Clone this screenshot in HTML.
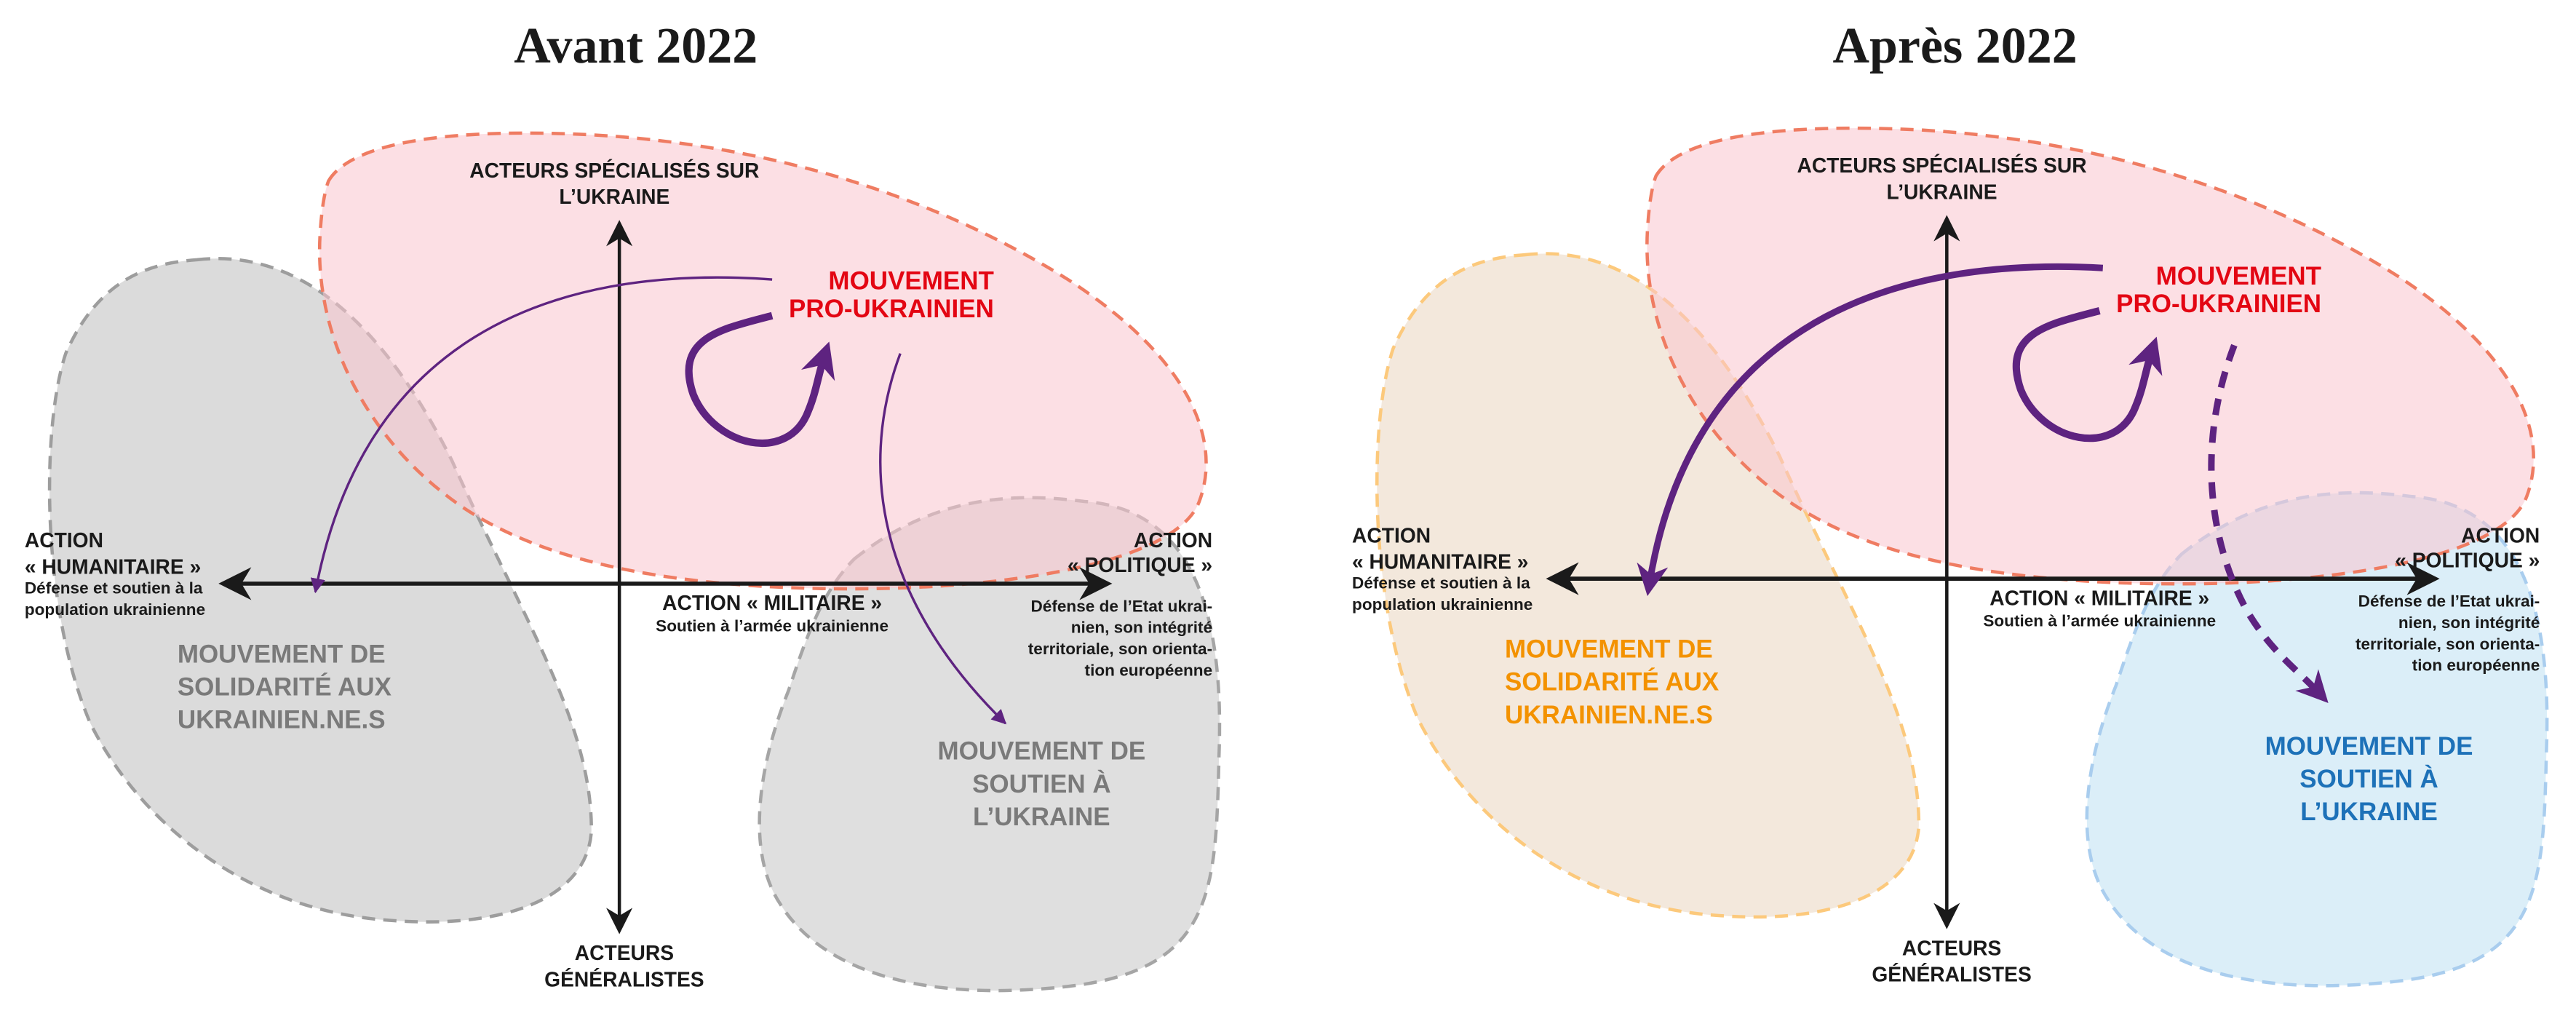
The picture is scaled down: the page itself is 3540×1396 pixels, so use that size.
<!DOCTYPE html>
<html><head><meta charset="utf-8"><style>
html,body{margin:0;padding:0;background:#fff}
svg{display:block}
text{font-family:"Liberation Sans",Arial,sans-serif;font-weight:bold}
.t{font-family:"Liberation Serif",serif;font-size:31px;text-anchor:middle;fill:#1a1a1a}
.ax{font-size:12.5px;fill:#1a1a1a}
.sm{font-size:10px;fill:#1a1a1a}
.big{font-size:15.5px}
</style></head><body>
<svg width="3540" height="1396" viewBox="0 0 1568 618" preserveAspectRatio="none" xmlns="http://www.w3.org/2000/svg">
<defs>
<marker id="ah" viewBox="0 0 10 10" refX="8" refY="5" markerWidth="8" markerHeight="8" orient="auto-start-reverse"><path d="M0,0 L10,5 L0,10 L3,5 Z" fill="#1a1a1a"/></marker>
<marker id="ap" viewBox="0 0 10 10" refX="9" refY="5" markerWidth="6" markerHeight="6" orient="auto"><path d="M0,0 L10,5 L0,10 Z" fill="#5e2380"/></marker>
<marker id="apb" viewBox="0 0 10 10" refX="6" refY="5" markerWidth="4.8" markerHeight="4.8" orient="auto"><path d="M0,0 L10,5 L0,10 L3,5 Z" fill="#5e2380"/></marker>
</defs>

<g id="L">
<text class="t" x="387" y="38">Avant 2022</text>
<path d="M120,158 C190,150 240,210 275,280 C320,380 360,440 360,505 C358,545 310,565 240,560 C150,555 85,500 55,440 C25,370 25,260 40,215 C60,170 90,160 120,158 Z" fill="#d9d9d9" fill-opacity="0.95" stroke="#9d9d9d" stroke-width="2" stroke-dasharray="8,5"/>
<path d="M520,340 C570,300 620,300 660,305 C730,310 745,380 742,460 C740,540 740,590 650,600 C560,610 500,590 475,550 C455,520 460,470 480,420 C490,390 500,360 520,340 Z" fill="#dcdcdc" fill-opacity="0.9" stroke="#a5a5a5" stroke-width="2" stroke-dasharray="8,5"/>
<path d="M200,110 C215,85 280,78 360,82 C470,88 570,120 650,170 C720,215 745,265 730,305 C715,345 600,360 500,358 C400,356 320,340 270,300 C225,265 190,205 195,140 C196,125 198,115 200,110 Z" fill="#f9c5cd" fill-opacity="0.55" stroke="#ef7c62" stroke-width="2" stroke-dasharray="8,5"/>
<line x1="377" y1="565" x2="377" y2="137" stroke="#1a1a1a" stroke-width="2" marker-end="url(#ah)" marker-start="url(#ah)"/>
<line x1="137" y1="355" x2="673" y2="355" stroke="#1a1a1a" stroke-width="2.5" marker-end="url(#ah)" marker-start="url(#ah)"/>
<text class="ax" x="374" y="108" text-anchor="middle">ACTEURS SPÉCIALISÉS SUR</text>
<text class="ax" x="374" y="124" text-anchor="middle">L’UKRAINE</text>
<text class="ax" x="380" y="584" text-anchor="middle">ACTEURS</text>
<text class="ax" x="380" y="600" text-anchor="middle">GÉNÉRALISTES</text>
<text class="ax" x="15" y="333">ACTION</text>
<text class="ax" x="15" y="349">« HUMANITAIRE »</text>
<text class="sm" x="15" y="361">Défense et soutien à la</text>
<text class="sm" x="15" y="374">population ukrainienne</text>
<text class="ax" x="470" y="371" text-anchor="middle">ACTION « MILITAIRE »</text>
<text class="sm" x="470" y="384" text-anchor="middle">Soutien à l’armée ukrainienne</text>
<text class="ax" x="738" y="333" text-anchor="end">ACTION</text>
<text class="ax" x="738" y="348" text-anchor="end">« POLITIQUE »</text>
<text class="sm" x="738" y="372" text-anchor="end">Défense de l’Etat ukrai-</text>
<text class="sm" x="738" y="385" text-anchor="end">nien, son intégrité</text>
<text class="sm" x="738" y="398" text-anchor="end">territoriale, son orienta-</text>
<text class="sm" x="738" y="411" text-anchor="end">tion européenne</text>
<text class="big" x="605" y="176" text-anchor="end" fill="#e30613">MOUVEMENT</text>
<text class="big" x="605" y="193" text-anchor="end" fill="#e30613">PRO-UKRAINIEN</text>
</g>
<g id="Lc">
<text class="big" x="108" y="403" fill="#7a7a7a">MOUVEMENT DE</text>
<text class="big" x="108" y="423" fill="#7a7a7a">SOLIDARITÉ AUX</text>
<text class="big" x="108" y="443" fill="#7a7a7a">UKRAINIEN.NE.S</text>
<text class="big" x="634" y="462" text-anchor="middle" fill="#7a7a7a">MOUVEMENT DE</text>
<text class="big" x="634" y="482" text-anchor="middle" fill="#7a7a7a">SOUTIEN À</text>
<text class="big" x="634" y="502" text-anchor="middle" fill="#7a7a7a">L’UKRAINE</text>
<path d="M470,170 C330,160 220,210 192,360" fill="none" stroke="#5e2380" stroke-width="1.5" marker-end="url(#ap)"/>
<path d="M548,215 C520,290 540,370 612,440" fill="none" stroke="#5e2380" stroke-width="1.5" marker-end="url(#ap)"/>
<path d="M470,192 C440,200 410,205 422,240 C435,272 480,282 492,250 C497,238 498,228 502,216" fill="none" stroke="#5e2380" stroke-width="4.5" marker-end="url(#apb)"/>
</g>

<text class="t" x="1190" y="38">Après 2022</text>
<g transform="translate(808,-3)">
<path d="M120,158 C190,150 240,210 275,280 C320,380 360,440 360,505 C358,545 310,565 240,560 C150,555 85,500 55,440 C25,370 25,260 40,215 C60,170 90,160 120,158 Z" fill="#f3e8dc" stroke="#fcc97c" stroke-width="2" stroke-dasharray="8,5"/>
<path d="M520,340 C570,300 620,300 660,305 C730,310 745,380 742,460 C740,540 740,590 650,600 C560,610 500,590 475,550 C455,520 460,470 480,420 C490,390 500,360 520,340 Z" fill="#dbeef8" stroke="#a9cdee" stroke-width="2" stroke-dasharray="8,5"/>
<path d="M200,110 C215,85 280,78 360,82 C470,88 570,120 650,170 C720,215 745,265 730,305 C715,345 600,360 500,358 C400,356 320,340 270,300 C225,265 190,205 195,140 C196,125 198,115 200,110 Z" fill="#f9c5cd" fill-opacity="0.55" stroke="#ef7c62" stroke-width="2" stroke-dasharray="8,5"/>
<line x1="377" y1="565" x2="377" y2="137" stroke="#1a1a1a" stroke-width="2" marker-end="url(#ah)" marker-start="url(#ah)"/>
<line x1="137" y1="355" x2="673" y2="355" stroke="#1a1a1a" stroke-width="2.5" marker-end="url(#ah)" marker-start="url(#ah)"/>
<text class="ax" x="374" y="108" text-anchor="middle">ACTEURS SPÉCIALISÉS SUR</text>
<text class="ax" x="374" y="124" text-anchor="middle">L’UKRAINE</text>
<text class="ax" x="380" y="584" text-anchor="middle">ACTEURS</text>
<text class="ax" x="380" y="600" text-anchor="middle">GÉNÉRALISTES</text>
<text class="ax" x="15" y="333">ACTION</text>
<text class="ax" x="15" y="349">« HUMANITAIRE »</text>
<text class="sm" x="15" y="361">Défense et soutien à la</text>
<text class="sm" x="15" y="374">population ukrainienne</text>
<text class="ax" x="470" y="371" text-anchor="middle">ACTION « MILITAIRE »</text>
<text class="sm" x="470" y="384" text-anchor="middle">Soutien à l’armée ukrainienne</text>
<text class="ax" x="738" y="333" text-anchor="end">ACTION</text>
<text class="ax" x="738" y="348" text-anchor="end">« POLITIQUE »</text>
<text class="sm" x="738" y="372" text-anchor="end">Défense de l’Etat ukrai-</text>
<text class="sm" x="738" y="385" text-anchor="end">nien, son intégrité</text>
<text class="sm" x="738" y="398" text-anchor="end">territoriale, son orienta-</text>
<text class="sm" x="738" y="411" text-anchor="end">tion européenne</text>
<text class="big" x="605" y="176" text-anchor="end" fill="#e30613">MOUVEMENT</text>
<text class="big" x="605" y="193" text-anchor="end" fill="#e30613">PRO-UKRAINIEN</text>
<text class="big" x="108" y="403" fill="#f39200">MOUVEMENT DE</text>
<text class="big" x="108" y="423" fill="#f39200">SOLIDARITÉ AUX</text>
<text class="big" x="108" y="443" fill="#f39200">UKRAINIEN.NE.S</text>
<text class="big" x="634" y="462" text-anchor="middle" fill="#1d71b8">MOUVEMENT DE</text>
<text class="big" x="634" y="482" text-anchor="middle" fill="#1d71b8">SOUTIEN À</text>
<text class="big" x="634" y="502" text-anchor="middle" fill="#1d71b8">L’UKRAINE</text>
<path d="M472,166 C330,158 220,210 196,358" fill="none" stroke="#5e2380" stroke-width="4" marker-end="url(#apb)"/>
<path d="M552,213 C530,270 535,330 560,375 C575,400 590,410 604,425" fill="none" stroke="#5e2380" stroke-width="4" stroke-dasharray="10,7" marker-end="url(#apb)"/>
<path d="M470,192 C440,200 410,205 422,240 C435,272 480,282 492,250 C497,238 498,228 502,216" fill="none" stroke="#5e2380" stroke-width="4.5" marker-end="url(#apb)"/>
</g>
</svg>
</body></html>
